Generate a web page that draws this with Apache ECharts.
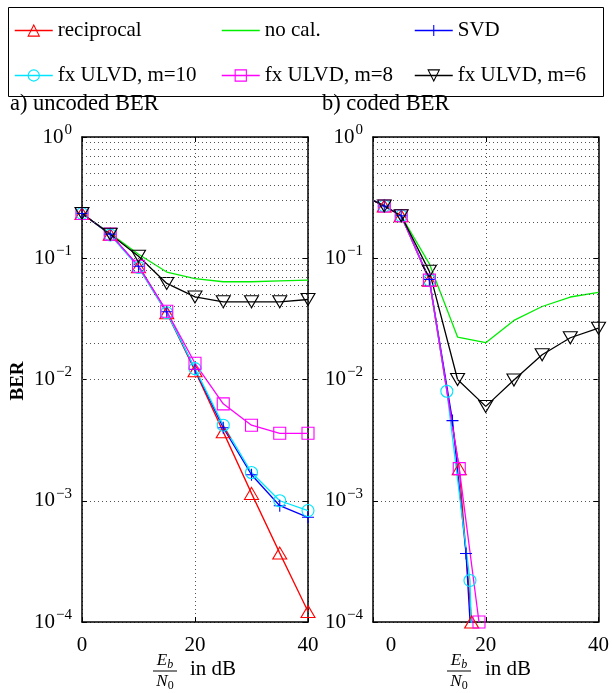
<!DOCTYPE html>
<html><head><meta charset="utf-8">
<script src="https://cdn.jsdelivr.net/npm/echarts@6/dist/echarts.min.js"></script>
<style>html,body{margin:0;padding:0;background:#fff}#c{width:612px;height:693px}</style>
</head><body><div id="c"></div>
<script>
// ---- data: left panel (uncoded BER) ----
const xLeft = [0, 5, 10, 15, 20, 25, 30, 35, 40];
const leftReciprocal = [0.234, 0.158, 0.085, 0.0355, 0.0118, 0.0037, 0.00115, 0.00037, 0.000122];
const leftNoCal      = [0.234, 0.160, 0.108, 0.077, 0.068, 0.064, 0.064, 0.065, 0.066];
const leftSVD        = [0.234, 0.158, 0.086, 0.0362, 0.0121, 0.0040, 0.00164, 0.00091, 0.00073];
const leftM10        = [0.234, 0.156, 0.084, 0.0355, 0.0123, 0.0042, 0.00171, 0.00100, 0.00083];
const leftM8         = [0.234, 0.158, 0.086, 0.0365, 0.0136, 0.0063, 0.0042, 0.0036, 0.0036];
const leftM6         = [0.234, 0.158, 0.104, 0.062, 0.048, 0.0437, 0.0437, 0.0437, 0.0457];

// ---- data: right panel (coded BER) ----
const xRight = [0, 2, 5, 10, 15, 20, 25, 30, 35, 40];
const rightNoCal = [0.30, 0.27, 0.224, 0.090, 0.0224, 0.0201, 0.0307, 0.040, 0.0479, 0.0524];
const rightM6    = [0.30, 0.27, 0.224, 0.078, 0.0100, 0.0060, 0.0099, 0.0160, 0.0221, 0.0265];
const rightRecipX = [0, 2, 5, 10, 15.3, 17.5];
const rightRecipY = [0.30, 0.27, 0.224, 0.066, 0.00184, 0.0001];
const rightSVDX   = [0, 2, 5, 10, 14.1, 16.5, 17.6];
const rightSVDY   = [0.30, 0.27, 0.224, 0.067, 0.00458, 0.000367, 0.00005];
const rightM10X   = [0, 2, 5, 10, 13.1, 17.2, 17.6];
const rightM10Y   = [0.30, 0.27, 0.224, 0.066, 0.0080, 0.00022, 0.00005];
const rightM8X    = [0, 2, 5, 10, 15.3, 18.8];
const rightM8Y    = [0.30, 0.27, 0.224, 0.066, 0.00184, 0.0001];

const xTicks = [0, 20, 40];
const yMin = 1e-4, yMax = 1;
const names = ['reciprocal', 'no cal.', 'SVD', 'fx ULVD, m=10', 'fx ULVD, m=8', 'fx ULVD, m=6'];
const panelTitles = ['a) uncoded BER', 'b) coded BER'];

const F = '"Liberation Serif", "Times New Roman", serif';
const PLUS = 'path://M5,0L5,10M0,5L10,5';
const styles = {
  'reciprocal':    {color: '#ff0000', symbol: 'triangle', size: [14, 12], rot: 0},
  'no cal.':       {color: '#00ee00', symbol: 'circle', size: 0, rot: 0, noMark: true},
  'SVD':           {color: '#0000ff', symbol: PLUS, size: 12, rot: 0},
  'fx ULVD, m=10': {color: '#00e5ff', symbol: 'circle', size: 12, rot: 0},
  'fx ULVD, m=8':  {color: '#ff00ff', symbol: 'rect', size: 12, rot: 0},
  'fx ULVD, m=6':  {color: '#000000', symbol: 'triangle', size: [14, 12], rot: 180}
};

function pairs(xs, ys, hideFirst) {
  return xs.map((x, i) => {
    const d = {value: [x, ys[i]]};
    if (hideFirst && i === 0) d.symbol = 'none';
    return d;
  });
}

function mkSeries(name, data, axisIdx) {
  const s = styles[name];
  return {
    name, type: 'line', xAxisIndex: axisIdx, yAxisIndex: axisIdx,
    data, symbol: s.symbol, symbolSize: s.size, symbolRotate: s.rot,
    showSymbol: !s.noMark, clip: true, animation: false, silent: true,
    lineStyle: {color: s.color, width: 1.3},
    itemStyle: {color: 'rgba(0,0,0,0)', borderColor: s.noMark ? 'rgba(0,0,0,0)' : s.color, borderWidth: s.noMark ? 0 : 1.1}
  };
}

const minorVals = [];
for (let e = -4; e < 0; e++) for (let k = 2; k <= 9; k++) minorVals.push(k * Math.pow(10, e));

function gridLinesSeries(axisIdx) {
  return {
    type: 'line', xAxisIndex: axisIdx, yAxisIndex: axisIdx, data: [], silent: true,
    markLine: {
      silent: true, symbol: ['none', 'none'], animation: false,
      label: {show: false},
      lineStyle: {type: [1, 3], color: '#555', width: 1},
      data: minorVals.map(v => ({yAxis: v}))
    }
  };
}

const series = [];
series.push(gridLinesSeries(0));
series.push(gridLinesSeries(2));
series.push(mkSeries('reciprocal', pairs(xLeft, leftReciprocal), 0));
series.push(mkSeries('no cal.', pairs(xLeft, leftNoCal), 0));
series.push(mkSeries('SVD', pairs(xLeft, leftSVD), 0));
series.push(mkSeries('fx ULVD, m=10', pairs(xLeft, leftM10), 0));
series.push(mkSeries('fx ULVD, m=8', pairs(xLeft, leftM8), 0));
series.push(mkSeries('fx ULVD, m=6', pairs(xLeft, leftM6), 0));
series.push(mkSeries('reciprocal', pairs(rightRecipX, rightRecipY, true), 2));
series.push(mkSeries('no cal.', pairs(xRight, rightNoCal, true), 2));
series.push(mkSeries('SVD', pairs(rightSVDX, rightSVDY, true), 2));
series.push(mkSeries('fx ULVD, m=10', pairs(rightM10X, rightM10Y, true), 2));
series.push(mkSeries('fx ULVD, m=8', pairs(rightM8X, rightM8Y, true), 2));
series.push(mkSeries('fx ULVD, m=6', pairs(xRight, rightM6, true), 2));

const axisLine = {show: true, onZero: false, lineStyle: {color: '#000', width: 1.5}};
const tick = {show: true, inside: true, length: 5, lineStyle: {color: '#000', width: 1}};
const dotted = {show: true, lineStyle: {type: [1, 3], color: '#555', width: 1}};

function xAxes(g, offsetZero) {
  return [
    {gridIndex: g, type: 'value', min: xTicks[0], max: xTicks[xTicks.length - 1], interval: xTicks[1] - xTicks[0],
     position: 'bottom', axisLine, axisTick: tick, splitLine: dotted,
     axisLabel: {color: '#000', fontFamily: F, fontSize: 21, margin: 13,
       formatter: v => (offsetZero && v === 0) ? '{o|0}' : String(v),
       rich: {o: {fontFamily: F, fontSize: 21, color: '#000', padding: [0, 0, 0, 36]}}}},
    {gridIndex: g, type: 'value', min: xTicks[0], max: xTicks[xTicks.length - 1], interval: xTicks[1] - xTicks[0],
     position: 'top', axisLine, axisTick: tick, splitLine: {show: false}, axisLabel: {show: false}}
  ];
}
function yAxes(g) {
  return [
    {gridIndex: g, type: 'log', logBase: 10, min: yMin, max: yMax, position: 'left',
     axisLine, axisTick: tick, splitLine: dotted,
     axisLabel: {margin: 10, color: '#000',
       formatter: v => { const e = Math.round(Math.log10(v)); return '{b|10}{s|' + (e < 0 ? '\u2212' + (-e) : e) + '}'; },
       rich: {b: {fontFamily: F, fontSize: 21, color: '#000'},
              s: {fontFamily: F, fontSize: 15, color: '#000', padding: [0, 0, 14, 1]}}}},
    {gridIndex: g, type: 'log', logBase: 10, min: yMin, max: yMax, position: 'right',
     axisLine, axisTick: tick, splitLine: {show: false}, axisLabel: {show: false}}
  ];
}

const legendPos = [[14, 20], [221, 20], [414, 20], [14, 65], [221, 65], [414, 65]];
const legends = names.map((n, i) => ({
  data: [n], left: legendPos[i][0], top: legendPos[i][1], padding: 0,
  itemWidth: 38, itemHeight: 14, selectedMode: false,
  textStyle: {fontFamily: F, fontSize: 21, color: '#000'},
  itemStyle: {borderWidth: 1.1},
  lineStyle: {width: 1.5}
}));

function frac(cx, unitX) {
  return [
    {type: 'text', x: cx, y: 661, style: {text: '{i|E}{s|b}', align: 'center', verticalAlign: 'middle',
      rich: {i: {fontFamily: F, fontStyle: 'italic', fontSize: 17, fill: '#000'},
             s: {fontFamily: F, fontStyle: 'italic', fontSize: 12, fill: '#000', padding: [8, 0, 0, 0]}}}},
    {type: 'line', shape: {x1: cx - 12, y1: 671, x2: cx + 12, y2: 671}, style: {stroke: '#000', lineWidth: 1}},
    {type: 'text', x: cx, y: 682, style: {text: '{i|N}{s|0}', align: 'center', verticalAlign: 'middle',
      rich: {i: {fontFamily: F, fontStyle: 'italic', fontSize: 17, fill: '#000'},
             s: {fontFamily: F, fontSize: 12, fill: '#000', padding: [8, 0, 0, 0]}}}},
    {type: 'text', x: unitX, y: 669, style: {text: 'in dB', fontFamily: F, fontSize: 21, fill: '#000', align: 'left', verticalAlign: 'middle'}}
  ];
}

const graphic = [
  {type: 'rect', shape: {x: 8.5, y: 7.5, width: 595, height: 89}, style: {fill: 'none', stroke: '#000', lineWidth: 1}},
  {type: 'text', x: 10, y: 104, style: {text: panelTitles[0], fontFamily: F, fontSize: 22.5, fill: '#000', verticalAlign: 'middle'}},
  {type: 'text', x: 322, y: 104, style: {text: panelTitles[1], fontFamily: F, fontSize: 22.5, fill: '#000', verticalAlign: 'middle'}},
  {type: 'text', x: 18, y: 381, rotation: Math.PI / 2, style: {text: 'BER', fontFamily: F, fontWeight: 'bold', fontSize: 19, fill: '#000', align: 'center', verticalAlign: 'middle'}},
  ...frac(165, 190),
  ...frac(459, 485)
];

const chart = echarts.init(document.getElementById('c'), null, {renderer: 'canvas'});
chart.setOption({
  animation: false,
  backgroundColor: '#fff',
  legend: legends,
  grid: [
    {left: 82, top: 137, width: 226, height: 485},
    {left: 373, top: 137, width: 227, height: 485}
  ],
  xAxis: [...xAxes(0, false), ...xAxes(1, true)],
  yAxis: [...yAxes(0), ...yAxes(1)],
  series,
  graphic
});
</script></body></html>
